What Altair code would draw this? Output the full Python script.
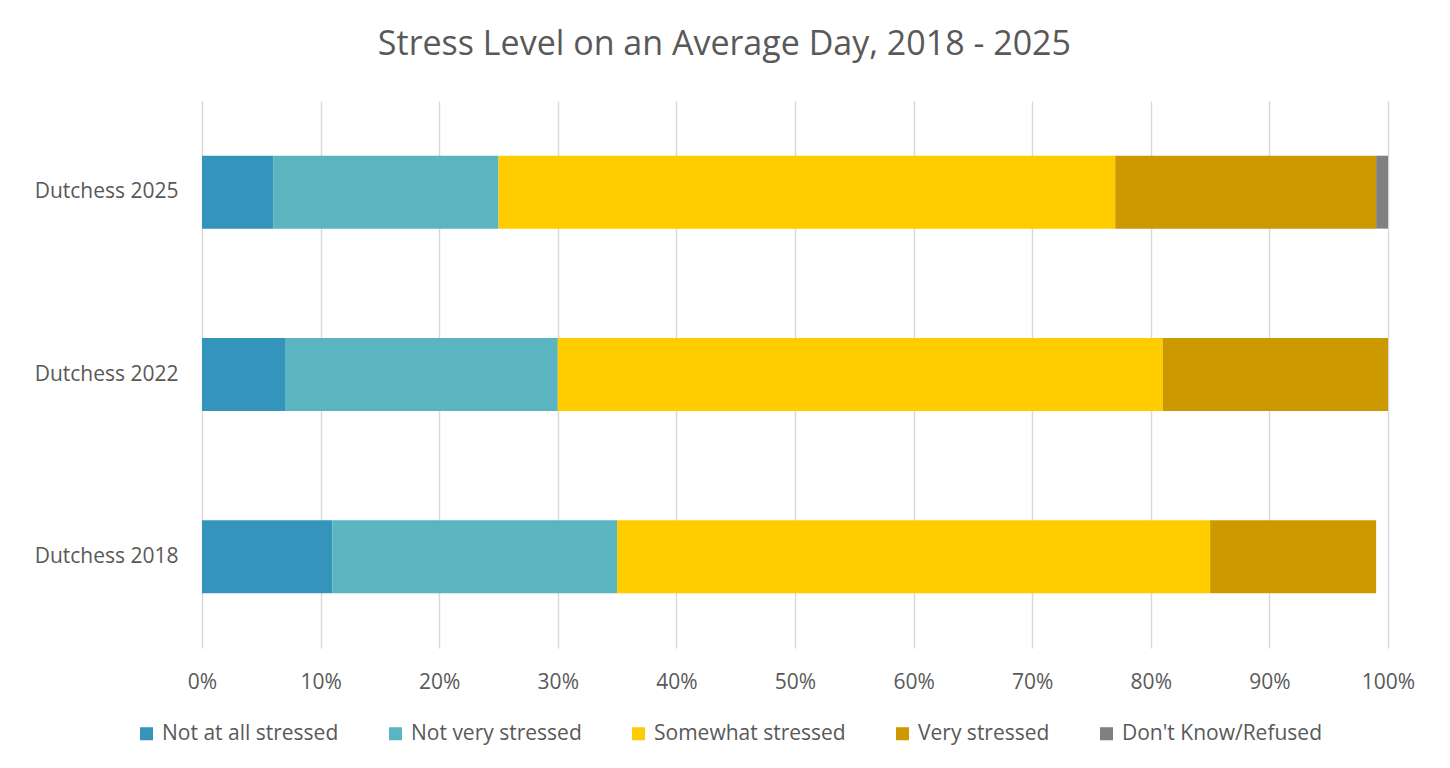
import altair as alt
import pandas as pd

categories = ["Dutchess 2025", "Dutchess 2022", "Dutchess 2018"]
series = ["Not at all stressed", "Not very stressed", "Somewhat stressed", "Very stressed", "Don't Know/Refused"]
not_at_all = [6, 7, 11]
not_very = [19, 23, 24]
somewhat = [52, 51, 50]
very = [22, 19, 14]
dont_know = [1, 0, 0]
colors = ["#3594BC", "#5AB5C0", "#FFCC00", "#CC9900", "#808080"]

values = [not_at_all, not_very, somewhat, very, dont_know]
rows = []
for si, (s, vals) in enumerate(zip(series, values)):
    for c, v in zip(categories, vals):
        rows.append({"group": c, "level": s, "order": si, "pct": v})
df = pd.DataFrame(rows)

FONT = "Open Sans"
TXT = "#595959"

chart = alt.Chart(df).mark_bar().encode(
    y=alt.Y("group:N", sort=categories, title=None,
            scale=alt.Scale(paddingInner=0.6, paddingOuter=0.3),
            axis=alt.Axis(domain=False, ticks=False, labelPadding=24, labelFontSize=21,
                          labelColor=TXT, labelFont=FONT, labelLimit=300)),
    x=alt.X("pct:Q", stack="zero", title=None,
            scale=alt.Scale(domain=[0, 100], nice=False),
            axis=alt.Axis(values=list(range(0, 101, 10)), labelExpr="datum.value + '%'",
                          domain=False, ticks=False, grid=True, gridColor="#d9d9d9",
                          gridWidth=1.5, labelPadding=23, labelFontSize=21,
                          labelFlush=False, labelColor=TXT, labelFont=FONT)),
    color=alt.Color("level:N", sort=series,
                    scale=alt.Scale(domain=series, range=colors),
                    legend=alt.Legend(title=None, orient="none", direction="horizontal",
                                      legendX=-66, legendY=622,
                                      symbolType="square", symbolSize=170,
                                      symbolStrokeWidth=0, labelOffset=5,
                                      labelFontSize=21, labelColor=TXT, labelFont=FONT,
                                      columnPadding=46, labelLimit=400)),
    order=alt.Order("order:Q"),
).properties(
    width=1186,
    height=547,
    title=alt.TitleParams("Stress Level on an Average Day, 2018 - 2025", fontSize=34,
                          font=FONT, color=TXT, fontWeight="normal",
                          anchor="middle", frame="bounds", offset=39),
    padding={"left": 26, "top": 20, "right": 20, "bottom": 60},
).configure_view(stroke=None)

chart.save("out.html", embed_options={"renderer": "svg", "actions": False})
